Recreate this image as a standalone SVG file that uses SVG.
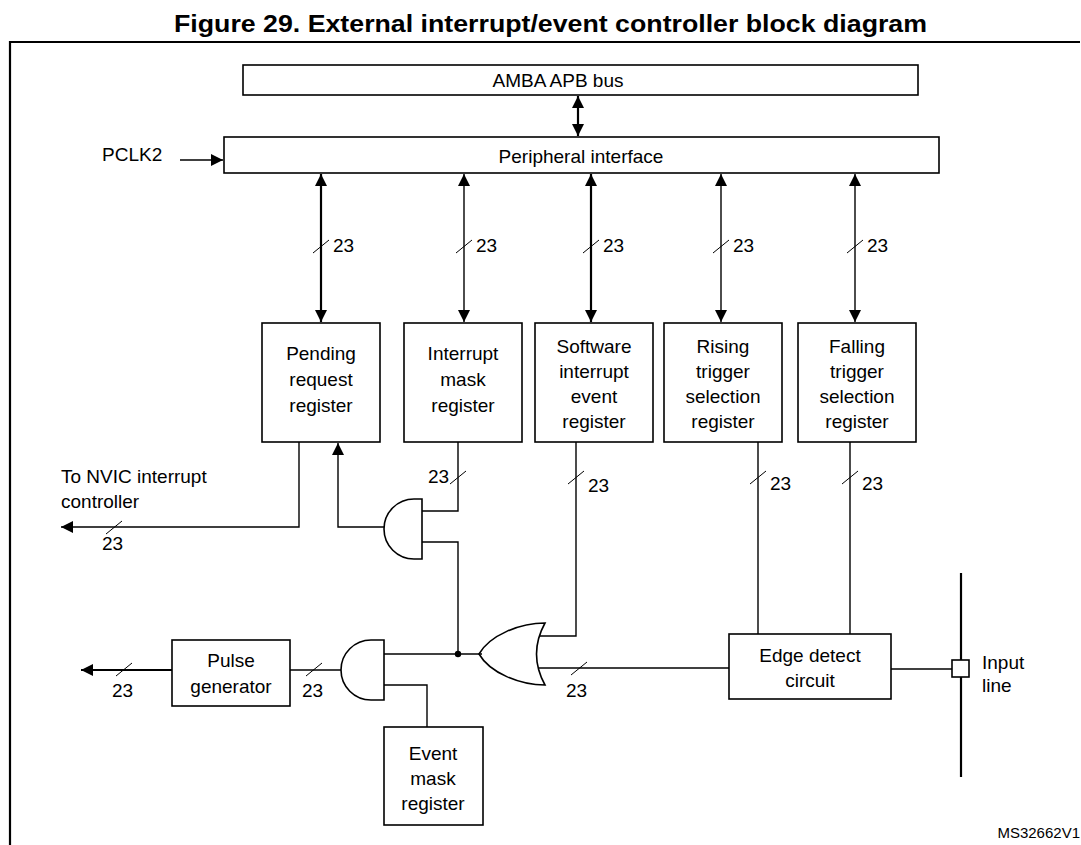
<svg xmlns="http://www.w3.org/2000/svg" width="1081" height="845" viewBox="0 0 1081 845">
<style>
text{font-family:"Liberation Sans",Arial,sans-serif;font-size:19px;fill:#000}
.c{text-anchor:middle}
.b{fill:#fff;stroke:#000;stroke-width:1.6}
.w{fill:none;stroke:#000;stroke-width:1.4}
.t{fill:none;stroke:#000;stroke-width:2.2}
.s{stroke:#000;stroke-width:1}
</style>
<defs>
<marker id="a2" viewBox="0 0 10 10" refX="10" refY="5" markerWidth="14" markerHeight="12" markerUnits="userSpaceOnUse" orient="auto-start-reverse"><path d="M0,0L10,5L0,10Z"/></marker>
</defs>
<rect width="1081" height="845" fill="#fff"/>
<text x="174" y="32" textLength="753" lengthAdjust="spacingAndGlyphs" style="font-weight:bold;font-size:24px">Figure 29. External interrupt/event controller block diagram</text>
<path d="M10,845V42H1080" class="t"/>
<text x="1080" y="838" style="font-size:15px;text-anchor:end">MS32662V1</text>
<g id="amba"><rect x="243" y="65" width="675" height="30" class="b"/><text x="558" y="87" class="c">AMBA APB bus</text></g>
<g id="periph"><rect x="224" y="137" width="715" height="36" class="b"/><text x="581" y="163" class="c">Peripheral interface</text></g>
<text x="102" y="161">PCLK2</text>
<g id="pending"><rect x="262" y="323" width="118" height="119" class="b"/><text class="c" x="321" y="360">Pending</text><text class="c" x="321" y="386">request</text><text class="c" x="321" y="412">register</text></g>
<g id="imask"><rect x="404" y="323" width="118" height="119" class="b"/><text class="c" x="463" y="360">Interrupt</text><text class="c" x="463" y="386">mask</text><text class="c" x="463" y="412">register</text></g>
<g id="swie"><rect x="535" y="323" width="118" height="119" class="b"/><text class="c" x="594" y="353">Software</text><text class="c" x="594" y="378">interrupt</text><text class="c" x="594" y="403">event</text><text class="c" x="594" y="428">register</text></g>
<g id="rising"><rect x="664" y="323" width="118" height="119" class="b"/><text class="c" x="723" y="353">Rising</text><text class="c" x="723" y="378">trigger</text><text class="c" x="723" y="403">selection</text><text class="c" x="723" y="428">register</text></g>
<g id="falling"><rect x="798" y="323" width="118" height="119" class="b"/><text class="c" x="857" y="353">Falling</text><text class="c" x="857" y="378">trigger</text><text class="c" x="857" y="403">selection</text><text class="c" x="857" y="428">register</text></g>
<g id="pulse"><rect x="172" y="640" width="118" height="66" class="b"/><text class="c" x="231" y="667">Pulse</text><text class="c" x="231" y="693">generator</text></g>
<g id="evmask"><rect x="384" y="727" width="99" height="98" class="b"/><text class="c" x="433" y="760">Event</text><text class="c" x="433" y="785">mask</text><text class="c" x="433" y="810">register</text></g>
<g id="edge"><rect x="729" y="634" width="162" height="65" class="b"/><text class="c" x="810" y="662">Edge detect</text><text class="c" x="810" y="687">circuit</text></g>
<g id="and1"><path d="M422,499H414A30,30 0 0 0 414,559H422Z" class="b"/></g>
<g id="and2"><path d="M384,640H371A30,30 0 0 0 371,700H384Z" class="b"/></g>
<g id="or1"><path d="M545,623C520,623 490,635 479,654C490,673 520,685 545,685Q528,654 545,623Z" class="b"/></g>
<g id="input"><line x1="961" y1="573" x2="961" y2="660" class="t"/><line x1="961" y1="677" x2="961" y2="777" class="t"/><rect x="952" y="660" width="17" height="17" class="b"/><text x="982" y="669">Input</text><text x="982" y="692">line</text></g>
<g id="connectors">
<line x1="578" y1="96" x2="578" y2="136" class="t" marker-start="url(#a2)" marker-end="url(#a2)"/>
<line x1="180" y1="160" x2="223" y2="160" class="w" marker-end="url(#a2)"/>
<line x1="321" y1="174" x2="321" y2="322" class="t" marker-start="url(#a2)" marker-end="url(#a2)"/>
<line x1="464" y1="174" x2="464" y2="322" class="w" marker-start="url(#a2)" marker-end="url(#a2)"/>
<line x1="591" y1="174" x2="591" y2="322" class="t" marker-start="url(#a2)" marker-end="url(#a2)"/>
<line x1="721" y1="174" x2="721" y2="322" class="w" marker-start="url(#a2)" marker-end="url(#a2)"/>
<line x1="855" y1="174" x2="855" y2="322" class="w" marker-start="url(#a2)" marker-end="url(#a2)"/>
<path d="M299,442V527H61" class="w" marker-end="url(#a2)"/>
<path d="M384,527H338V443" class="w" marker-end="url(#a2)"/>
<path d="M422,511H458V442" class="w"/>
<path d="M422,542H458V654" class="w"/>
<path d="M384,654H482" class="w"/>
<circle cx="458" cy="654" r="3.2"/>
<path d="M539,636H576V442" class="w"/>
<path d="M539,668H729" class="w"/>
<path d="M758,442V634M850,442V634" class="w"/>
<path d="M891,669H952" class="w"/>
<path d="M384,685H427V727" class="w"/>
<path d="M341,670H290" class="w"/>
<path d="M172,670H81" class="t" marker-end="url(#a2)"/>
</g>
<g id="buswidths">
<path class="s" d="M313,253L329,240M456,253L472,240M583,253L599,240M713,253L729,240M847,253L863,240M450,484L466,471M568,484L584,471M750,484L766,471M842,484L858,471M106,534L122,521M306,676L322,663M116,676L132,663M571,675L587,662"/>
<text x="333" y="252">23</text><text x="476" y="252">23</text><text x="603" y="252">23</text><text x="733" y="252">23</text><text x="867" y="252">23</text>
<text x="428" y="483">23</text><text x="588" y="492">23</text><text x="770" y="490">23</text><text x="862" y="490">23</text>
<text x="61" y="483">To NVIC interrupt</text><text x="61" y="508">controller</text>
<text x="102" y="550">23</text><text x="302" y="697">23</text><text x="112" y="697">23</text><text x="566" y="697">23</text>
</g>
</svg>
